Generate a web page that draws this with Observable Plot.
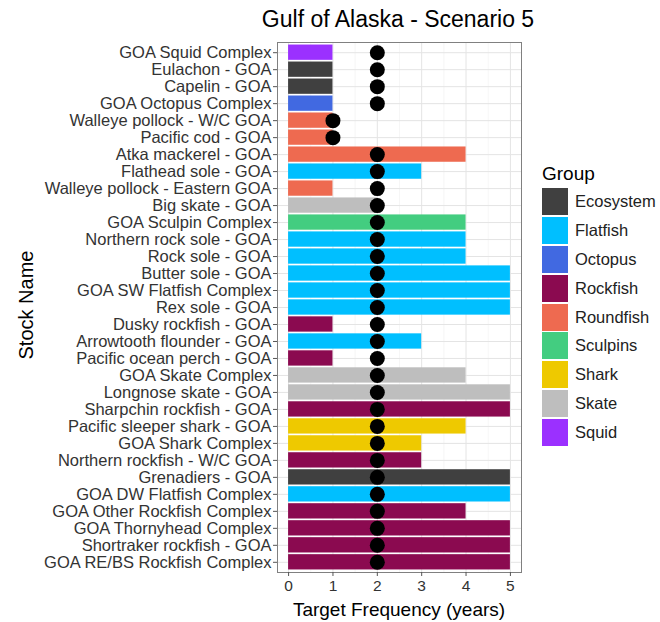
<!DOCTYPE html>
<html><head><meta charset="utf-8">
<script src="https://cdn.jsdelivr.net/npm/d3@7"></script>
<script src="https://cdn.jsdelivr.net/npm/@observablehq/plot@0.6"></script>
<style>
body{margin:0;background:#fff;font-family:"Liberation Sans",Arial,sans-serif;}
#wrap{position:relative;width:660px;height:622px;overflow:hidden;background:#fff;}
#chart{position:absolute;left:0;top:0;}
#title{position:absolute;left:398px;top:6px;transform:translateX(-50%);font-size:23px;line-height:1.149;white-space:nowrap;color:#000;}
#xtitle{position:absolute;left:399px;top:599px;transform:translateX(-50%);font-size:19px;line-height:1.149;white-space:nowrap;color:#000;}
#ytitle{position:absolute;left:26px;top:305px;transform:translate(-50%,-50%) rotate(-90deg);font-size:20px;white-space:nowrap;color:#000;}
#legend{position:absolute;left:542px;top:163px;color:#000;}
#legend .lt{font-size:19px;height:24px;line-height:22px;}
#legend .row{display:flex;align-items:center;height:28.9px;}
#legend .sw{width:26px;height:27px;box-sizing:border-box;}
#legend .lb{font-size:16.5px;margin-left:7px;color:#222;}
</style></head>
<body>
<div id="wrap">
  <div id="chart"></div>
  <div id="title">Gulf of Alaska - Scenario 5</div>
  <div id="ytitle">Stock Name</div>
  <div id="xtitle">Target Frequency (years)</div>
  <div id="legend"></div>
</div>
<script>
const stocks = [
  "GOA Squid Complex","Eulachon - GOA","Capelin - GOA","GOA Octopus Complex",
  "Walleye pollock - W/C GOA","Pacific cod - GOA","Atka mackerel - GOA","Flathead sole - GOA",
  "Walleye pollock - Eastern GOA","Big skate - GOA","GOA Sculpin Complex","Northern rock sole - GOA",
  "Rock sole - GOA","Butter sole - GOA","GOA SW Flatfish Complex","Rex sole - GOA",
  "Dusky rockfish - GOA","Arrowtooth flounder - GOA","Pacific ocean perch - GOA","GOA Skate Complex",
  "Longnose skate - GOA","Sharpchin rockfish - GOA","Pacific sleeper shark - GOA","GOA Shark Complex",
  "Northern rockfish - W/C GOA","Grenadiers - GOA","GOA DW Flatfish Complex","GOA Other Rockfish Complex",
  "GOA Thornyhead Complex","Shortraker rockfish - GOA","GOA RE/BS Rockfish Complex"
];
const stockGroups = [
  "Squid","Ecosystem","Ecosystem","Octopus",
  "Roundfish","Roundfish","Roundfish","Flatfish",
  "Roundfish","Skate","Sculpins","Flatfish",
  "Flatfish","Flatfish","Flatfish","Flatfish",
  "Rockfish","Flatfish","Rockfish","Skate",
  "Skate","Rockfish","Shark","Shark",
  "Rockfish","Ecosystem","Flatfish","Rockfish",
  "Rockfish","Rockfish","Rockfish"
];
const targetFrequency = [1,1,1,1, 1,1,4,3, 1,2,4,4, 4,5,5,5, 1,3,1,4, 5,5,4,3, 3,5,5,4, 5,5,5];
const scenarioFrequency = [2,2,2,2, 1,1,2,2, 2,2,2,2, 2,2,2,2, 2,2,2,2, 2,2,2,2, 2,2,2,2, 2,2,2];
const groupNames = ["Ecosystem","Flatfish","Octopus","Rockfish","Roundfish","Sculpins","Shark","Skate","Squid"];
const groupColors = ["#404040","#00BFFF","#4169E1","#8B0A50","#EE6A50","#43CD80","#EEC900","#BEBEBE","#9B30FF"];
const xTicks = [0,1,2,3,4,5];
const xMinor = [0.5,1.5,2.5,3.5,4.5];

const data = stocks.map((s,i)=>({stock:s, group:stockGroups[i], target:targetFrequency[i], freq:scenarioFrequency[i]}));

const chart = Plot.plot({
  width:660, height:622,
  marginTop:42, marginBottom:50, marginLeft:277, marginRight:139,
  style:{fontFamily:'"Liberation Sans",Arial,sans-serif', fontSize:"16.5px", color:"#333", background:"transparent"},
  x:{domain:[-0.25,5.25], ticks:xTicks, label:null},
  y:{domain:stocks, paddingInner:0.1, paddingOuter:0.15, label:null},
  color:{domain:groupNames, range:groupColors},
  marks:[
    Plot.gridX(xMinor, {stroke:"#f0f0f0", strokeWidth:0.6, strokeOpacity:1}),
    Plot.gridX(xTicks, {stroke:"#e4e4e4", strokeWidth:1, strokeOpacity:1}),
    Plot.gridY(stocks, {stroke:"#e4e4e4", strokeWidth:1, strokeOpacity:1}),
    Plot.barX(data, {x:"target", y:"stock", fill:"group"}),
    Plot.dot(data, {x:"freq", y:"stock", r:7.5, fill:"black", stroke:"none"}),
    Plot.frame({stroke:"#808080"}),
    Plot.axisX(xTicks, {tickSize:4, tickPadding:3, label:null, fontSize:15.5, stroke:"#555"}),
    Plot.axisY({tickSize:4, tickPadding:2, label:null, stroke:"#555"})
  ]
});
document.getElementById("chart").appendChild(chart);

const lg = document.getElementById("legend");
const t = document.createElement("div"); t.className="lt"; t.textContent="Group"; lg.appendChild(t);
groupNames.forEach((g,i)=>{
  const r=document.createElement("div"); r.className="row";
  const sw=document.createElement("div"); sw.className="sw"; sw.style.background=groupColors[i];
  const lb=document.createElement("div"); lb.className="lb"; lb.textContent=g;
  r.appendChild(sw); r.appendChild(lb); lg.appendChild(r);
});
</script>
</body></html>
